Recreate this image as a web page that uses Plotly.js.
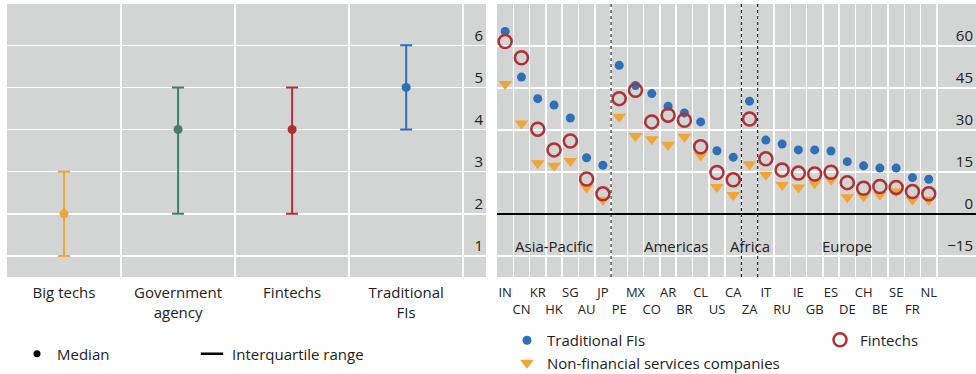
<!DOCTYPE html>
<html><head><meta charset="utf-8">
<script src="https://cdn.plot.ly/plotly-3.0.1.min.js"></script>
<style>html,body{margin:0;padding:0;background:#fff}#chart{width:976px;height:374px}</style>
</head><body><div id="chart"></div>
<script>
// ---- Left panel data ----
const groups = ['Big techs', 'Government<br>agency', 'Fintechs', 'Traditional<br>FIs'];
const medians = [2, 4, 4, 5];
const q1 = [1, 2, 2, 4];
const q3 = [3, 5, 5, 6];
const leftTicks = [1, 2, 3, 4, 5, 6];

// ---- Right panel data ----
const countries = ['IN','CN','KR','HK','SG','AU','JP','PE','MX','CO','AR','BR','CL','US','CA','ZA','IT','RU','IE','GB','ES','DE','CH','BE','SE','FR','NL'];
const traditionalFIs = [65.2, 48.9, 41.2, 38.9, 34.3, 20.1, 17.4, 53.1, 45.9, 43.0, 38.5, 36.1, 32.9, 22.6, 20.3, 40.3, 26.4, 25.0, 22.9, 22.9, 22.5, 18.7, 17.2, 16.4, 16.4, 13.0, 12.4];
const fintechs = [61.6, 55.8, 30.3, 22.9, 26.1, 12.5, 7.2, 41.2, 44.2, 32.9, 35.3, 33.5, 24.0, 14.8, 12.2, 33.9, 19.7, 15.7, 14.6, 14.3, 14.9, 11.2, 9.2, 9.8, 9.5, 8.0, 7.2];
const nonFinancial = [46.4, 32.3, 18.1, 17.2, 18.9, 9.5, 5.1, 34.7, 27.9, 26.7, 24.7, 27.6, 21.0, 9.6, 6.8, 17.8, 14.0, 10.4, 9.5, 11.0, 12.2, 6.0, 6.3, 6.9, 8.0, 5.1, 5.1];
const regions = ['Asia-Pacific', 'Americas', 'Africa', 'Europe'];
const regionCounts = [7, 8, 1, 11];
const rightTicks = [-15, 0, 15, 30, 45, 60];

// ---- Styles ----
const FONT = 'Open Sans, Noto Sans, sans-serif';
const TXT = '#222222';
const groupColors = ['#f0a535', '#3f7f6c', '#b03035', '#2e6fba'];
const cBlue = '#2e6fba', cRed = '#b03035', cOrange = '#f0a535';
const BG = '#d3d4d4';

const traces = [];
groups.forEach((g, i) => {
  traces.push({
    type: 'scatter', mode: 'markers', xaxis: 'x', yaxis: 'y',
    x: [g], y: [medians[i]], showlegend: false, hoverinfo: 'skip',
    marker: {color: groupColors[i], size: 9},
    error_y: {type: 'data', symmetric: false, array: [q3[i] - medians[i]], arrayminus: [medians[i] - q1[i]],
              color: groupColors[i], thickness: 2, width: 6}
  });
});
// legend-only items for left panel
traces.push({type: 'scatter', mode: 'markers', x: [null], y: [null], xaxis: 'x', yaxis: 'y',
  name: 'Median', legend: 'legend', marker: {color: '#000', size: 7}});
traces.push({type: 'scatter', mode: 'markers', x: [null], y: [null], xaxis: 'x', yaxis: 'y',
  name: 'Interquartile range', legend: 'legend4', marker: {symbol: 'line-ew', size: 16, color: '#000', line: {color: '#000', width: 2.5}}});

// right panel
traces.push({type: 'scatter', mode: 'markers', x: countries, y: nonFinancial, xaxis: 'x2', yaxis: 'y2',
  name: 'Non-financial services companies', legend: 'legend2', legendrank: 2,
  marker: {symbol: 'triangle-down', size: 12, color: cOrange}});
traces.push({type: 'scatter', mode: 'markers', x: countries, y: traditionalFIs, xaxis: 'x2', yaxis: 'y2',
  name: 'Traditional FIs', legend: 'legend2', legendrank: 1,
  marker: {symbol: 'circle', size: 9, color: cBlue}});
traces.push({type: 'scatter', mode: 'markers', x: countries, y: fintechs, xaxis: 'x2', yaxis: 'y2',
  name: 'Fintechs', legend: 'legend3',
  marker: {symbol: 'circle-open', size: 13, color: cRed, line: {color: cRed, width: 2.5}}});

// region dividers and labels
const shapes = [];
const annotations = [];
let start = 0;
regions.forEach((r, i) => {
  const end = start + regionCounts[i] - 1;
  annotations.push({xref: 'x2', yref: 'y2', x: (start + end) / 2, y: -11.3, text: r, showarrow: false,
    font: {family: FONT, size: 15, color: TXT}});
  if (i < regions.length - 1) {
    shapes.push({type: 'line', xref: 'x2', yref: 'paper', x0: end + 0.5, x1: end + 0.5, y0: 0, y1: 1,
      line: {color: '#000', width: 1, dash: 'dot'}});
  }
  start = end + 1;
});

const legendBase = {orientation: 'v', bgcolor: 'rgba(0,0,0,0)', font: {family: FONT, size: 15, color: TXT},
  xanchor: 'left', yanchor: 'middle'};
const LY = (px) => (277 - px) / 273;

const layout = {
  width: 976, height: 374,
  margin: {l: 0, r: 0, t: 4, b: 97, autoexpand: false},
  paper_bgcolor: '#fff', plot_bgcolor: BG,
  font: {family: FONT, size: 15, color: TXT},
  showlegend: true,
  xaxis: {domain: [7/976, 486/976], type: 'category', range: [-0.5, 3.7], showgrid: true, gridcolor: '#fff',
    gridwidth: 1.5, tickson: 'boundaries', ticks: '', zeroline: false, showline: false, anchor: 'y',
    tickangle: 0, ticklabelstandoff: 5, tickfont: {family: FONT, size: 15, color: TXT}},
  yaxis: {domain: [0, 1], range: [0.5, 6.98], tickvals: leftTicks, side: 'right', ticklabelposition: 'inside',
    ticklabelshift: -10, showgrid: true, gridcolor: '#fff', gridwidth: 1.5, zeroline: false, ticks: '', anchor: 'x',
    tickfont: {family: FONT, size: 15, color: TXT}},
  xaxis2: {domain: [497/976, 1], type: 'category', range: [-0.5, 28.9], showgrid: true, gridcolor: '#fff',
    gridwidth: 1.5, tickson: 'boundaries', ticks: '', zeroline: false, anchor: 'y2', tickangle: 0,
    ticklabelstandoff: 6,
    tickvals: countries, ticktext: countries.map((c, i) => i % 2 ? '<br>' + c : c),
    tickfont: {family: FONT, size: 13, color: TXT}},
  yaxis2: {domain: [0, 1], range: [-22.5, 75], tickvals: rightTicks, side: 'right', ticklabelposition: 'inside',
    ticklabelshift: -10, showgrid: true, gridcolor: '#fff', gridwidth: 1.5, zeroline: true, zerolinecolor: '#000',
    zerolinewidth: 2, ticks: '', anchor: 'x2', tickfont: {family: FONT, size: 15, color: TXT}},
  legend: Object.assign({}, legendBase, {x: 17/976, y: LY(354)}),
  legend4: Object.assign({}, legendBase, {x: 192/976, y: LY(354)}),
  legend2: Object.assign({}, legendBase, {x: 507/976, y: LY(351.5)}),
  legend3: Object.assign({}, legendBase, {x: 820/976, y: LY(340)}),
  shapes: shapes,
  annotations: annotations
};

Plotly.newPlot('chart', traces, layout, {staticPlot: true, displayModeBar: false});
</script></body></html>
